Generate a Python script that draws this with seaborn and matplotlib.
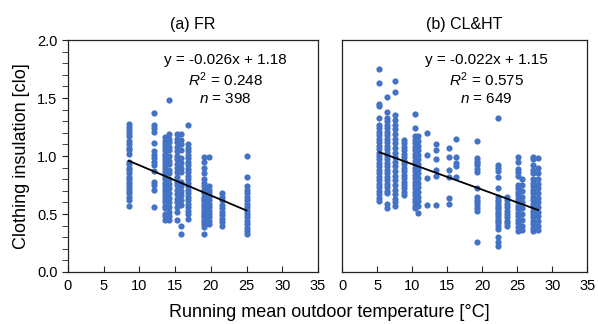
import numpy as np
import pandas as pd
import matplotlib
matplotlib.use("Agg")
import matplotlib.pyplot as plt
import seaborn as sns
from matplotlib.ticker import MultipleLocator, FormatStrFormatter

sns.set_style("ticks")
plt.rcParams['font.family'] = ['Liberation Sans', 'DejaVu Sans']
plt.rcParams['mathtext.fontset'] = 'custom'
plt.rcParams['mathtext.rm'] = 'Liberation Sans'
plt.rcParams['mathtext.it'] = 'Liberation Sans:italic'
plt.rcParams['text.color'] = 'black'
plt.rcParams['axes.labelcolor'] = 'black'
plt.rcParams['xtick.color'] = '#222222'
plt.rcParams['ytick.color'] = '#222222'
plt.rcParams['xtick.labelcolor'] = 'black'
plt.rcParams['ytick.labelcolor'] = 'black'

# --- (a) FR: clothing insulation per running-mean temperature column ---
fr_temps = [8.5, 12.0, 13.6, 14.2, 15.3, 15.8, 16.8, 19.1, 19.8, 21.5, 25.0]
fr_clo = [
    [1.28, 1.25, 1.22, 1.20, 1.17, 1.13, 1.10, 1.07, 1.05, 1.02, 0.95, 0.93, 0.90,
     0.88, 0.85, 0.82, 0.80, 0.78, 0.75, 0.72, 0.70, 0.68, 0.65, 0.62, 0.57],
    [1.37, 1.27, 1.24, 1.21, 1.11, 1.04, 1.01, 0.98, 0.95, 0.92, 0.87, 0.78, 0.75, 0.71, 0.56],
    [1.16, 1.13, 1.10, 1.08, 1.05, 1.02, 1.00, 0.97, 0.95, 0.92, 0.90, 0.87, 0.85, 0.82,
     0.80, 0.77, 0.75, 0.72, 0.70, 0.67, 0.65, 0.62, 0.60, 0.57, 0.55, 0.50, 0.48, 0.45],
    [1.48, 1.19, 1.15, 1.12, 1.08, 1.05, 1.00, 0.96, 0.93, 0.88, 0.85, 0.80, 0.76, 0.72,
     0.68, 0.64, 0.60, 0.56, 0.52, 0.48, 0.45],
    [1.19, 1.15, 1.12, 1.08, 1.04, 1.00, 0.97, 0.93, 0.90, 0.86, 0.82, 0.78, 0.75, 0.71,
     0.67, 0.63, 0.60, 0.56, 0.52, 0.45],
    [1.19, 1.14, 1.10, 1.05, 0.98, 0.94, 0.90, 0.86, 0.78, 0.74, 0.70, 0.66, 0.62, 0.58, 0.40, 0.33],
    [1.27, 1.10, 1.07, 1.04, 1.01, 0.98, 0.95, 0.92, 0.89, 0.86, 0.83, 0.80, 0.77, 0.74,
     0.71, 0.68, 0.65, 0.62, 0.59, 0.56, 0.53, 0.50, 0.46],
    [0.99, 0.95, 0.90, 0.85, 0.80, 0.77, 0.74, 0.71, 0.68, 0.65, 0.63, 0.61, 0.59, 0.57,
     0.55, 0.53, 0.51, 0.49, 0.47, 0.45, 0.43, 0.41, 0.39, 0.33],
    [0.99, 0.74, 0.71, 0.68, 0.65, 0.62, 0.59, 0.56, 0.53, 0.50, 0.47, 0.44, 0.41],
    [0.68, 0.65, 0.62, 0.58, 0.55, 0.52, 0.49, 0.46, 0.43, 0.40],
    [1.00, 0.82, 0.74, 0.71, 0.68, 0.65, 0.62, 0.59, 0.56, 0.53, 0.50, 0.47, 0.44, 0.41,
     0.38, 0.35, 0.33],
]

# --- (b) CL&HT ---
clht_temps = [5.3, 6.4, 7.5, 8.9, 10.4, 10.9, 12.1, 13.4, 15.2, 16.2, 19.2, 22.3, 23.5,
              25.1, 25.7, 27.2, 28.0]
clht_clo = [
    [1.75, 1.63, 1.45, 1.43, 1.33, 1.27, 1.24, 1.21, 1.18, 1.15, 1.12, 1.09, 1.06, 1.03,
     1.00, 0.97, 0.94, 0.91, 0.88, 0.85, 0.82, 0.79, 0.76, 0.73, 0.70, 0.67, 0.64, 0.61],
    [1.51, 1.38, 1.33, 1.30, 1.27, 1.24, 1.21, 1.18, 1.15, 1.12, 1.09, 1.06, 1.03, 1.00,
     0.97, 0.94, 0.91, 0.88, 0.85, 0.82, 0.79, 0.76, 0.73, 0.70, 0.68, 0.59, 0.55],
    [1.65, 1.55, 1.35, 1.31, 1.27, 1.23, 1.19, 1.15, 1.11, 1.07, 1.03, 0.99, 0.95, 0.91,
     0.87, 0.83, 0.79, 0.75, 0.71, 0.67, 0.63, 0.60, 0.57],
    [1.14, 1.11, 1.08, 1.05, 1.02, 0.99, 0.96, 0.93, 0.90, 0.87, 0.84, 0.81, 0.78, 0.75,
     0.72, 0.69, 0.66],
    [1.36, 1.24, 1.17, 1.14, 1.11, 1.08, 1.05, 1.02, 0.99, 0.96, 0.93, 0.90, 0.87, 0.84,
     0.81, 0.78, 0.75, 0.72, 0.69, 0.66, 0.63, 0.60, 0.57, 0.55],
    [1.17, 1.13, 1.09, 1.05, 1.01, 0.97, 0.93, 0.89, 0.85, 0.81, 0.77, 0.73, 0.69, 0.65,
     0.61, 0.57, 0.51],
    [1.20, 1.01, 0.81, 0.58],
    [1.10, 1.05, 0.97, 0.88, 0.83, 0.58],
    [1.07, 0.99, 0.88, 0.82, 0.64, 0.59],
    [1.15, 0.99, 0.94, 0.91, 0.82],
    [1.13, 0.98, 0.96, 0.94, 0.92, 0.89, 0.86, 0.72, 0.65, 0.62, 0.60, 0.58, 0.55, 0.53, 0.26],
    [1.33, 0.92, 0.90, 0.87, 0.82, 0.72, 0.65, 0.62, 0.60, 0.58, 0.56, 0.54, 0.52, 0.50,
     0.48, 0.46, 0.44, 0.42, 0.40, 0.37, 0.30, 0.26, 0.22],
    [0.65, 0.62, 0.59, 0.56, 0.53, 0.50, 0.47, 0.44, 0.42, 0.40],
    [0.99, 0.95, 0.89, 0.86, 0.83, 0.75, 0.72, 0.69, 0.66, 0.63, 0.60, 0.57, 0.54, 0.51,
     0.48, 0.45, 0.42, 0.39, 0.35],
    [0.80, 0.75, 0.70, 0.65, 0.60, 0.55, 0.50, 0.45, 0.40, 0.36],
    [0.99, 0.97, 0.92, 0.88, 0.85, 0.80, 0.77, 0.74, 0.71, 0.68, 0.65, 0.62, 0.59, 0.56,
     0.53, 0.50, 0.47, 0.44, 0.41, 0.38, 0.35],
    [0.98, 0.90, 0.85, 0.80, 0.76, 0.72, 0.68, 0.64, 0.60, 0.56, 0.52, 0.48, 0.44, 0.40, 0.36],
]

# reported regression results
panels = [
    {"title": "(a) FR", "temps": fr_temps, "clo": fr_clo,
     "slope": -0.026, "intercept": 1.18, "eq": "y = -0.026x + 1.18", "r2": "0.248", "n": "398"},
    {"title": "(b) CL&HT", "temps": clht_temps, "clo": clht_clo,
     "slope": -0.022, "intercept": 1.15, "eq": "y = -0.022x + 1.15", "r2": "0.575", "n": "649"},
]

POINT_COLOR = "#4472C4"

fig = plt.figure(figsize=(5.98, 3.24), dpi=100)
ax_a = fig.add_axes([0.1137, 0.1605, 0.418, 0.716])
ax_b = fig.add_axes([0.572, 0.1605, 0.41, 0.716])

for ax, p, text_x in [(ax_a, panels[0], 0.63), (ax_b, panels[1], 0.59)]:
    rows = [(t, c) for t, col in zip(p["temps"], p["clo"]) for c in col]
    df = pd.DataFrame(rows, columns=["temp", "clo"])
    sns.scatterplot(data=df, x="temp", y="clo", ax=ax, color=POINT_COLOR,
                    s=20, linewidth=0, alpha=1.0, zorder=2)

    # trend line over the data range
    xs = np.array([df["temp"].min(), df["temp"].max()])
    ax.plot(xs, p["slope"] * xs + p["intercept"], color="black", lw=1.3, zorder=3)

    ax.set_xlim(0, 35)
    ax.set_ylim(0, 2.0)
    ax.xaxis.set_major_locator(MultipleLocator(5))
    ax.set_xlabel("")
    ax.set_ylabel("")
    ax.set_title(p["title"], fontsize=11.5, pad=8)
    for sp in ax.spines.values():
        sp.set_visible(True)
        sp.set_linewidth(0.9)
        sp.set_color("#222222")
    ax.tick_params(axis="x", direction="in", length=4, labelsize=10.5, pad=5)

    ax.text(text_x, 0.915, p["eq"], transform=ax.transAxes, ha="center", va="center", fontsize=11)
    ax.text(text_x, 0.83, r"$R^2$" + " = " + p["r2"], transform=ax.transAxes,
            ha="center", va="center", fontsize=11)
    ax.text(text_x, 0.745, r"$n$" + " = " + p["n"], transform=ax.transAxes,
            ha="center", va="center", fontsize=11)

ax_a.yaxis.set_major_locator(MultipleLocator(0.5))
ax_a.yaxis.set_minor_locator(MultipleLocator(0.1))
ax_a.yaxis.set_major_formatter(FormatStrFormatter("%.1f"))
ax_a.tick_params(axis="y", which="both", direction="out", length=4, labelsize=10.5)
ax_a.set_ylabel("Clothing insulation [clo]", fontsize=13, labelpad=5)

ax_b.tick_params(axis="y", left=False, labelleft=False)

fig.text(0.55, 0.008, "Running mean outdoor temperature [°C]", ha="center", va="bottom", fontsize=13)

fig.savefig("out.png", dpi=100)
